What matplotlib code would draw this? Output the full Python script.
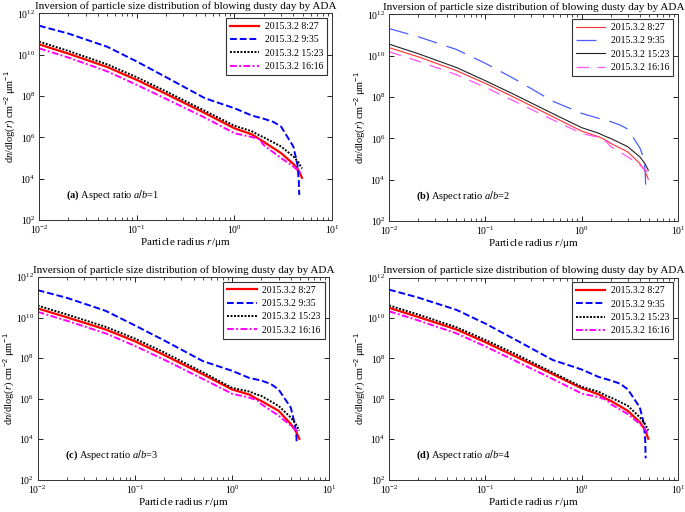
import numpy as np
import matplotlib
matplotlib.use('Agg')
import matplotlib.pyplot as plt
from matplotlib.ticker import LogLocator, NullFormatter, NullLocator

plt.rcParams['font.family'] = ['Liberation Serif', 'DejaVu Serif']
plt.rcParams['mathtext.fontset'] = 'custom'
plt.rcParams['mathtext.rm'] = 'Liberation Sans'
plt.rcParams['mathtext.it'] = 'Liberation Serif:italic'
plt.rcParams['mathtext.bf'] = 'Liberation Serif:bold'

# particle radius grids (um)
r = [0.01, 0.02, 0.05, 0.1, 0.2, 0.5, 1.0, 1.5, 1.8, 2.0, 3.0, 4.0, 4.5, 4.9]
r_blue = [0.01, 0.02, 0.05, 0.1, 0.2, 0.5, 1.0, 1.5, 2.0, 2.5, 3.0, 4.0, 4.4, 4.55, 4.6]

labels = ['2015.3.2 8:27', '2015.3.2 9:35', '2015.3.2 15:23', '2015.3.2 16:16']
panel_tags = ['(a)', '(b)', '(c)', '(d)']
aspect = [1, 2, 3, 4]

# log10 of dn/dlog(r)
a_red = [10.50, 10.05, 9.40, 8.78, 8.10, 7.17, 6.44, 6.15, 5.92, 5.78, 5.24, 4.72, 4.43, 4.05]
a_blue = [11.40, 11.02, 10.38, 9.67, 8.91, 7.89, 7.41, 7.06, 6.90, 6.75, 6.52, 5.56, 4.70, 3.90, 3.22]
a_black = [10.63, 10.18, 9.53, 8.91, 8.22, 7.28, 6.56, 6.30, 6.10, 6.00, 5.56, 5.08, 4.80, 4.50]
a_mag = [10.31, 9.86, 9.19, 8.54, 7.86, 6.95, 6.20, 6.02, 5.91, 5.62, 5.00, 4.60, 4.38, 4.22]

b_red = [10.39, 9.95, 9.28, 8.66, 7.98, 7.05, 6.35, 6.08, 5.90, 5.76, 5.35, 4.79, 4.45, 4.03]
b_blue = [11.31, 10.92, 10.30, 9.63, 8.88, 7.80, 7.21, 6.97, 6.81, 6.65, 6.45, 5.55, 5.05, 4.40, 3.74]
b_black = [10.56, 10.10, 9.43, 8.79, 8.12, 7.20, 6.52, 6.25, 6.08, 6.00, 5.60, 5.11, 4.80, 4.47]
b_mag = [10.19, 9.74, 9.08, 8.47, 7.80, 6.90, 6.24, 6.05, 5.84, 5.60, 5.11, 4.71, 4.50, 4.39]

c_red = [10.45, 10.01, 9.41, 8.83, 8.15, 7.20, 6.45, 6.20, 5.98, 5.88, 5.40, 4.75, 4.40, 4.02]
c_blue = [11.35, 10.97, 10.33, 9.61, 8.87, 7.85, 7.37, 7.02, 6.89, 6.72, 6.45, 5.56, 4.75, 4.30, 3.86]
c_black = [10.59, 10.15, 9.54, 8.96, 8.28, 7.30, 6.53, 6.35, 6.20, 6.13, 5.64, 5.07, 4.75, 4.43]
c_mag = [10.28, 9.84, 9.22, 8.60, 7.92, 6.97, 6.24, 6.05, 5.92, 5.72, 5.16, 4.67, 4.45, 4.35]

d_red = [10.50, 10.05, 9.43, 8.80, 8.12, 7.22, 6.52, 6.22, 6.00, 5.90, 5.41, 4.85, 4.50, 4.03]
d_blue = [11.40, 11.01, 10.40, 9.72, 8.95, 7.92, 7.45, 7.08, 6.91, 6.75, 6.47, 5.58, 4.80, 4.00, 3.06]
d_black = [10.62, 10.17, 9.54, 8.91, 8.24, 7.30, 6.59, 6.35, 6.15, 6.07, 5.66, 5.09, 4.78, 4.44]
d_mag = [10.33, 9.88, 9.24, 8.59, 7.90, 6.98, 6.26, 6.08, 5.95, 5.74, 5.25, 4.76, 4.50, 4.28]

panels = [(a_red, a_blue, a_black, a_mag),
          (b_red, b_blue, b_black, b_mag),
          (c_red, c_blue, c_black, c_mag),
          (d_red, d_blue, d_black, d_mag)]

# line styles: panels a, c, d share one look, b is thin with long dashes
styles_thick = [dict(color='#ff0000', ls='-', lw=1.6),
                dict(color='#0000ff', ls=(0, (3.5, 1.5)), lw=1.4),
                dict(color='black', ls=(0, (1, 0.8)), lw=1.4),
                dict(color='#ff00ff', ls=(0, (3.5, 1.2, 1, 1.2)), lw=1.4)]
styles_thin = [dict(color='#ff3030', ls='-', lw=0.8),
               dict(color='#4d5cff', ls=(0, (16, 8)), lw=0.9),
               dict(color='#222222', ls='-', lw=0.8),
               dict(color='#ff55ff', ls=(0, (10, 7)), lw=0.9)]

positions = [[0.057, 0.570, 0.428, 0.404],
             [0.568, 0.568, 0.422, 0.404],
             [0.055, 0.063, 0.426, 0.396],
             [0.568, 0.063, 0.422, 0.395]]

fig = plt.figure(figsize=(6.85, 5.12), dpi=100)

for i, (series, pos) in enumerate(zip(panels, positions)):
    ax = fig.add_axes(pos)
    sty = styles_thin if i == 1 else styles_thick
    for j, (vals, lab) in enumerate(zip(series, labels)):
        xs = r_blue if j == 1 else r
        ax.plot(xs, 10 ** np.array(vals), label=lab, **sty[j])
    ax.set_xscale('log')
    ax.set_yscale('log')
    ax.set_xlim(1e-2, 1e1)
    ax.set_ylim(1e2, 1e12)
    ax.yaxis.set_major_locator(LogLocator(base=100, numticks=10))
    ax.yaxis.set_minor_locator(NullLocator())
    ax.xaxis.set_minor_locator(LogLocator(base=10, subs=np.arange(2, 10), numticks=20))
    ax.xaxis.set_minor_formatter(NullFormatter())
    ax.tick_params(which='both', direction='in', top=True, right=True, labelsize=7)
    ax.tick_params(which='major', length=3.5, width=0.6, pad=2.5)
    ax.tick_params(which='minor', length=2, width=0.5)
    for sp in ax.spines.values():
        sp.set_linewidth(0.7)
        sp.set_color('#333333')
    ax.set_title('Inversion of particle size distribution of blowing dusty day by ADA',
                 fontsize=8, pad=3)
    ax.set_xlabel(r'Particle radius $r$/μm', fontsize=8, labelpad=0)
    ax.set_ylabel(r'd$n$/dlog($r$) cm$^{-2}$ μm$^{-1}$', fontsize=7.5, labelpad=0)
    ax.text(0.092, 0.12, r'$\mathbf{%s}$ Aspect ratio $a/b$=%d' % (panel_tags[i], aspect[i]),
            transform=ax.transAxes, fontsize=7.5, va='center')
    leg = ax.legend(loc='upper right', fontsize=7, fancybox=False, framealpha=1,
                    edgecolor='#333333', handlelength=3.0, handletextpad=0.6,
                    borderaxespad=0.5, labelspacing=0.45)
    leg.get_frame().set_linewidth(0.8)

fig.savefig('out.png', dpi=100)
